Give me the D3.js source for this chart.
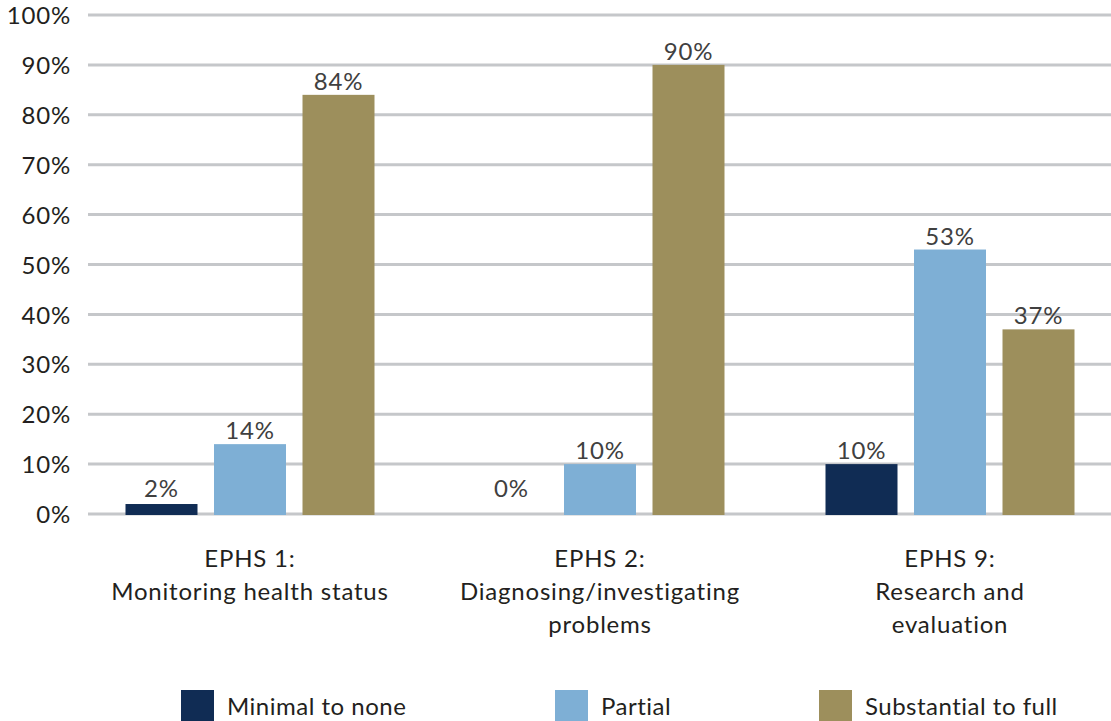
<!DOCTYPE html>
<html>
<head>
<meta charset="utf-8">
<script src="https://cdn.jsdelivr.net/npm/d3@7"></script>
<style>
  html, body { margin: 0; padding: 0; background: #ffffff; }
  svg { display: block; font-family: Lato, "Open Sans", sans-serif; }
</style>
</head>
<body>
<svg id="chart" width="1111" height="721"></svg>
<script>
// Essential public health services: capacity ratings
const categories = [
  ["EPHS 1:", "Monitoring health status"],
  ["EPHS 2:", "Diagnosing/investigating", "problems"],
  ["EPHS 9:", "Research and", "evaluation"]
];
const seriesNames = ["Minimal to none", "Partial", "Substantial to full"];
const minimalToNone = [2, 0, 10];
const partial = [14, 10, 53];
const substantialToFull = [84, 90, 37];
const yTicks = [0, 10, 20, 30, 40, 50, 60, 70, 80, 90, 100];

const colors = ["#102c54", "#7eafd5", "#9d8f5c"];
const seriesValues = [minimalToNone, partial, substantialToFull];

const FONT = "Lato, 'Open Sans', sans-serif";
const FS = 24;
const svg = d3.select("#chart");
const W = 1111;

const groupKeys = categories.map((c, i) => i);
const x0 = d3.scaleBand().domain(groupKeys).range([75, 1125]).padding(0);
const x1 = d3.scaleBand().domain(d3.range(seriesNames.length))
  .range([-132.75, 132.75]).paddingInner(0.1864).paddingOuter(0.0932);
const y = d3.scaleLinear().domain([0, 100]).range([514, 15]);

// gridlines
svg.append("g")
  .selectAll("line")
  .data(yTicks)
  .join("line")
  .attr("x1", 88).attr("x2", W)
  .attr("y1", d => y(d)).attr("y2", d => y(d))
  .attr("stroke", "#c5c7ca").attr("stroke-width", 3);

// y axis tick labels
const yAxis = d3.axisLeft(y).tickValues(yTicks).tickFormat(d => d + "%").tickSize(0).tickPadding(0);
const ya = svg.append("g").attr("transform", "translate(71,0)").call(yAxis);
ya.select(".domain").remove();
ya.selectAll("text")
  .attr("font-family", FONT)
  .attr("font-size", FS)
  .attr("letter-spacing", 0.8)
  .attr("fill", "#231f20")
  .attr("dy", "0.36em");

// bars
const barData = [];
categories.forEach((c, gi) => {
  seriesValues.forEach((vals, si) => {
    barData.push({ g: gi, s: si, v: vals[gi] });
  });
});

const cx = d => x0(d.g) + x0.bandwidth() / 2 + x1(d.s);

svg.append("g")
  .selectAll("rect")
  .data(barData.filter(d => d.v > 0))
  .join("rect")
  .attr("x", d => cx(d))
  .attr("y", d => y(d.v))
  .attr("width", x1.bandwidth())
  .attr("height", d => y(0) - y(d.v) + 1)
  .attr("fill", d => colors[d.s]);

// value labels
svg.append("g")
  .selectAll("text")
  .data(barData)
  .join("text")
  .attr("x", d => cx(d) + x1.bandwidth() / 2)
  .attr("y", d => Math.min(y(d.v) - 5, y(0) - 17))
  .attr("text-anchor", "middle")
  .attr("font-size", FS)
  .attr("letter-spacing", 0.8)
  .attr("fill", "#404040")
  .text(d => d.v + "%");

// category labels
const cat = svg.append("g")
  .selectAll("text")
  .data(categories)
  .join("text")
  .attr("x", (d, i) => x0(i) + x0.bandwidth() / 2)
  .attr("y", 567)
  .attr("text-anchor", "middle")
  .attr("font-size", FS)
  .attr("letter-spacing", 0.8)
  .attr("fill", "#231f20");
cat.selectAll("tspan")
  .data(d => d)
  .join("tspan")
  .attr("x", function () { return this.parentNode.getAttribute("x"); })
  .attr("dy", (d, i) => i === 0 ? 0 : 33)
  .text(d => d);

// legend
const legendX = [181, 555, 819];
const lg = svg.append("g")
  .selectAll("g")
  .data(seriesNames)
  .join("g")
  .attr("transform", (d, i) => `translate(${legendX[i]},690)`);
lg.append("rect")
  .attr("width", 33).attr("height", 33)
  .attr("fill", (d, i) => colors[i]);
lg.append("text")
  .attr("x", 46).attr("y", 25)
  .attr("font-size", FS)
  .attr("letter-spacing", 0.5)
  .attr("fill", "#231f20")
  .text(d => d);
</script>
</body>
</html>
